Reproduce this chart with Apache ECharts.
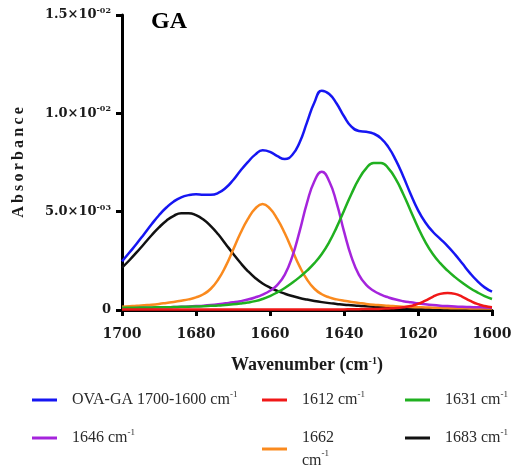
<!DOCTYPE html>
<html>
<head>
<meta charset="utf-8">
<script src="https://cdn.jsdelivr.net/npm/echarts@6/dist/echarts.min.js"></script>
<style>
  html, body { margin: 0; padding: 0; background: #fff; }
  #chart { width: 515px; height: 471px; }
</style>
</head>
<body>
<div id="chart"></div>
<script>
// Amide I band of OVA-GA: fitted envelope and its deconvoluted components.
// Absorbance values are in units of 10^-3.
const wavenumbers = [
  1700, 1698, 1696, 1694, 1692, 1690, 1688, 1686, 1684, 1682,
  1680, 1678, 1676, 1674, 1672, 1670, 1668, 1666, 1664, 1662,
  1660, 1658, 1656, 1654, 1652, 1650, 1648, 1646, 1644, 1642,
  1640, 1638, 1636, 1634, 1632, 1630, 1628, 1626, 1624, 1622,
  1620, 1618, 1616, 1614, 1612, 1610, 1608, 1606, 1604, 1602,
  1600
];

const totalFit = [
  2.47, 2.92, 3.38, 3.87, 4.36, 4.82, 5.21, 5.52, 5.73, 5.84,
  5.88, 5.86, 5.86, 5.95, 6.20, 6.60, 7.08, 7.52, 7.90, 8.12,
  8.04, 7.82, 7.68, 7.88, 8.52, 9.54, 10.55, 11.15, 10.98, 10.50,
  9.85, 9.32, 9.10, 9.06, 8.97, 8.73, 8.28, 7.62, 6.80, 5.90,
  5.08, 4.45, 3.98, 3.62, 3.25, 2.83, 2.36, 1.89, 1.48, 1.15,
  0.93
];

const band1612 = [
  0.02, 0.02, 0.02, 0.02, 0.02, 0.02, 0.02, 0.02, 0.02, 0.02,
  0.02, 0.02, 0.02, 0.02, 0.02, 0.02, 0.02, 0.02, 0.02, 0.02,
  0.03, 0.03, 0.03, 0.03, 0.03, 0.03, 0.03, 0.03, 0.03, 0.03,
  0.03, 0.04, 0.04, 0.05, 0.05, 0.06, 0.08, 0.10, 0.14, 0.20,
  0.31, 0.48, 0.67, 0.82, 0.87, 0.82, 0.67, 0.48, 0.31, 0.20,
  0.14
];

const band1631 = [
  0.11, 0.12, 0.12, 0.13, 0.13, 0.14, 0.14, 0.15, 0.16, 0.17,
  0.18, 0.19, 0.21, 0.23, 0.26, 0.29, 0.33, 0.38, 0.45, 0.56,
  0.71, 0.90, 1.12, 1.38, 1.67, 2.00, 2.38, 2.85, 3.45, 4.20,
  5.05, 5.90, 6.65, 7.20, 7.48, 7.48, 7.20, 6.65, 5.90, 5.05,
  4.20, 3.45, 2.85, 2.38, 2.00, 1.67, 1.38, 1.12, 0.90, 0.71,
  0.56
];

const band1646 = [
  0.08, 0.09, 0.10, 0.11, 0.12, 0.13, 0.14, 0.15, 0.16, 0.18,
  0.20, 0.22, 0.25, 0.29, 0.34, 0.39, 0.45, 0.53, 0.64, 0.78,
  0.98, 1.28, 1.80, 2.70, 4.00, 5.45, 6.55, 7.03, 6.55, 5.45,
  4.00, 2.70, 1.80, 1.28, 0.98, 0.78, 0.64, 0.53, 0.45, 0.39,
  0.34, 0.29, 0.25, 0.22, 0.20, 0.18, 0.16, 0.15, 0.14, 0.13,
  0.12
];

const band1662 = [
  0.17, 0.19, 0.21, 0.24, 0.27, 0.31, 0.36, 0.41, 0.47, 0.54,
  0.64, 0.80, 1.08, 1.55, 2.22, 3.05, 3.90, 4.62, 5.15, 5.39,
  5.15, 4.62, 3.90, 3.05, 2.22, 1.55, 1.08, 0.80, 0.64, 0.54,
  0.47, 0.41, 0.36, 0.31, 0.27, 0.24, 0.21, 0.19, 0.17, 0.15,
  0.14, 0.13, 0.12, 0.11, 0.10, 0.09, 0.09, 0.08, 0.08, 0.07,
  0.07
];

const band1683 = [
  2.15, 2.53, 2.94, 3.37, 3.80, 4.20, 4.54, 4.79, 4.92, 4.92,
  4.82, 4.60, 4.27, 3.85, 3.36, 2.87, 2.40, 1.98, 1.63, 1.35,
  1.14, 0.97, 0.83, 0.71, 0.61, 0.53, 0.46, 0.40, 0.35, 0.31,
  0.27, 0.24, 0.21, 0.19, 0.17, 0.15, 0.13, 0.12, 0.11, 0.10,
  0.09, 0.08, 0.07, 0.07, 0.06, 0.06, 0.05, 0.05, 0.05, 0.04,
  0.04
];

const xTicks = [1600, 1620, 1640, 1660, 1680, 1700];
const yTicks = [0, 5, 10, 15];

const seriesNames = [
  'OVA-GA 1700-1600 cm-1', '1612 cm-1', '1631 cm-1',
  '1646 cm-1', '1662 cm-1', '1683 cm-1'
];
const seriesColors = {
  'OVA-GA 1700-1600 cm-1': '#1616f2',
  '1612 cm-1': '#f01818',
  '1631 cm-1': '#20b020',
  '1646 cm-1': '#a524dc',
  '1662 cm-1': '#fa8a1e',
  '1683 cm-1': '#111111'
};
const seriesValues = {
  'OVA-GA 1700-1600 cm-1': totalFit,
  '1612 cm-1': band1612,
  '1631 cm-1': band1631,
  '1646 cm-1': band1646,
  '1662 cm-1': band1662,
  '1683 cm-1': band1683
};

const SERIF = '"Liberation Serif", "DejaVu Serif", serif';
const SERIF_WIDE = '"DejaVu Serif", "Liberation Serif", serif';

function pairs(values) {
  return wavenumbers.map((w, i) => [w, values[i]]);
}

// Tick label such as 1.5×10^-02 (value given in units of 10^-3)
function sciLabel(v) {
  if (v === 0) return '{m|0}';
  const p = Math.floor(Math.log10(v));
  const mant = (v / Math.pow(10, p)).toFixed(1);
  const e = p - 3;
  const expStr = (e < 0 ? '-' : '') + String(Math.abs(e)).padStart(2, '0');
  return '{m|' + mant + '×10}{s|' + expStr + '}';
}

function legendText(name) {
  let t = name.replace('cm-1', 'cm{s|-1}');
  if (name === '1662 cm-1') t = t.replace(' ', '\n');
  return t;
}

function legendFor(name, left, top, lineHeight) {
  return {
    data: [name],
    left: left,
    top: top,
    padding: 0,
    icon: 'rect',
    itemWidth: 25,
    itemHeight: 3,
    selectedMode: false,
    formatter: legendText,
    textStyle: {
      fontFamily: SERIF,
      fontSize: 16,
      color: '#2a2a2a',
      lineHeight: lineHeight,
      padding: [0, 0, 0, 10],
      rich: {
        s: { fontFamily: SERIF, fontSize: 9, color: '#2a2a2a', verticalAlign: 'top', lineHeight: 14 }
      }
    }
  };
}

const chart = echarts.init(document.getElementById('chart'), null, { renderer: 'canvas' });

const axisLineStyle = { color: '#000', width: 3 };

chart.setOption({
  animation: false,
  backgroundColor: '#fff',
  title: {
    text: 'GA',
    left: 151,
    top: 10,
    padding: 0,
    textStyle: { fontFamily: SERIF, fontWeight: 'bold', fontSize: 24, color: '#000' }
  },
  grid: { left: 122, right: 23, top: 15, bottom: 161, containLabel: false },
  legend: [
    legendFor(seriesNames[0], 32, 390, 20),
    legendFor(seriesNames[1], 262, 390, 20),
    legendFor(seriesNames[2], 405, 390, 20),
    legendFor(seriesNames[3], 32, 428, 20),
    legendFor(seriesNames[4], 262, 426, 23),
    legendFor(seriesNames[5], 405, 428, 20)
  ],
  xAxis: {
    type: 'value',
    inverse: true,
    min: xTicks[0],
    max: xTicks[xTicks.length - 1],
    interval: xTicks[1] - xTicks[0],
    name: 'Wavenumber (cm{s|-1})',
    nameLocation: 'middle',
    nameGap: 46,
    nameTextStyle: {
      fontFamily: SERIF, fontWeight: 'bold', fontSize: 18, color: '#1a1a1a',
      rich: { s: { fontFamily: SERIF, fontWeight: 'bold', fontSize: 10, verticalAlign: 'top', lineHeight: 14, color: '#1a1a1a' } }
    },
    axisLine: { show: true, onZero: false, lineStyle: axisLineStyle },
    axisTick: { show: true, inside: false, length: 6, lineStyle: axisLineStyle },
    axisLabel: {
      margin: 17,
      formatter: v => String(v),
      fontFamily: SERIF_WIDE, fontWeight: 'bold', fontSize: 14, color: '#1a1a1a'
    },
    splitLine: { show: false }
  },
  yAxis: {
    type: 'value',
    min: yTicks[0],
    max: yTicks[yTicks.length - 1],
    interval: yTicks[1] - yTicks[0],
    name: 'A\u2009b\u2009s\u2009o\u2009r\u2009b\u2009a\u2009n\u2009c\u2009e',
    nameLocation: 'middle',
    nameRotate: 90,
    nameGap: 95,
    nameTextStyle: { fontFamily: SERIF, fontWeight: 'bold', fontSize: 16, color: '#1a1a1a' },
    axisLine: { show: true, lineStyle: axisLineStyle },
    axisTick: { show: true, inside: false, length: 6, lineStyle: axisLineStyle },
    axisLabel: {
      margin: 11,
      formatter: sciLabel,
      rich: {
        m: { fontFamily: SERIF_WIDE, fontWeight: 'bold', fontSize: 13, color: '#1a1a1a', lineHeight: 16 },
        s: { fontFamily: SERIF_WIDE, fontWeight: 'bold', fontSize: 8, color: '#1a1a1a', lineHeight: 10, verticalAlign: 'top' }
      }
    },
    splitLine: { show: false }
  },
  series: [
    seriesNames[0], seriesNames[5], seriesNames[4],
    seriesNames[3], seriesNames[2], seriesNames[1]
  ].map(name => ({
    name: name,
    type: 'line',
    data: pairs(seriesValues[name]),
    smooth: 0.5,
    showSymbol: false,
    symbol: 'none',
    clip: false,
    lineStyle: { color: seriesColors[name], width: 2.5 },
    itemStyle: { color: seriesColors[name] },
    emphasis: { disabled: true }
  }))
});
</script>
</body>
</html>
